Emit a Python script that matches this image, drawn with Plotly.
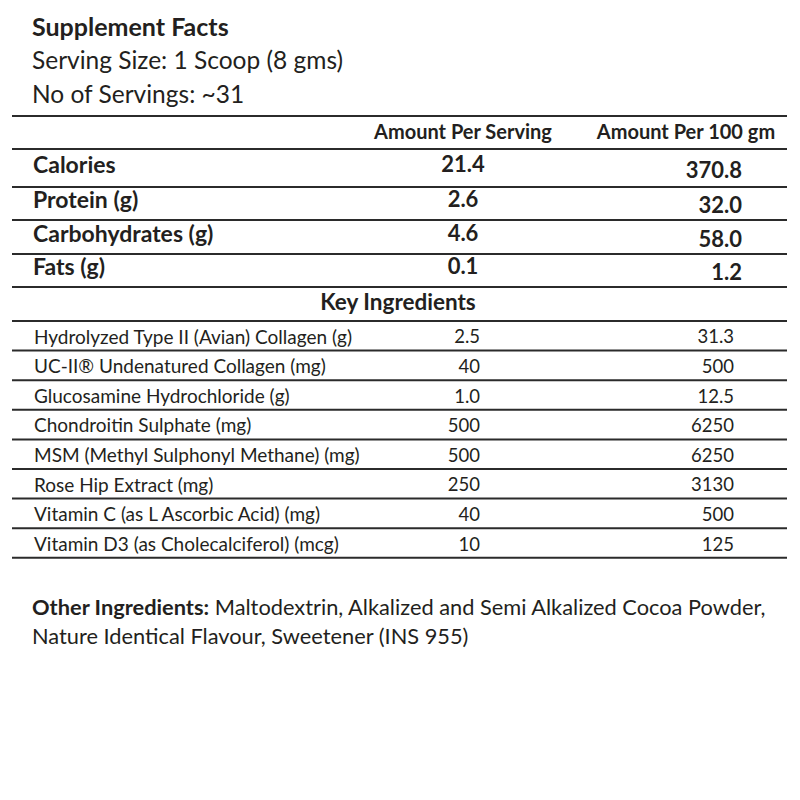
import plotly.graph_objects as go

# --- data ---
title = "Supplement Facts"
serving_size = "Serving Size: 1 Scoop (8 gms)"
servings = "No of Servings: ~31"
col_headers = ["Amount Per Serving", "Amount Per 100 gm"]

nutrients = ["Calories", "Protein (g)", "Carbohydrates (g)", "Fats (g)"]
nutr_per_serving = ["21.4", "2.6", "4.6", "0.1"]
nutr_per_100g = ["370.8", "32.0", "58.0", "1.2"]

section_title = "Key Ingredients"
ingredients = [
    "Hydrolyzed Type II (Avian) Collagen (g)",
    "UC-II® Undenatured Collagen (mg)",
    "Glucosamine Hydrochloride (g)",
    "Chondroitin Sulphate (mg)",
    "MSM (Methyl Sulphonyl Methane) (mg)",
    "Rose Hip Extract (mg)",
    "Vitamin C (as L Ascorbic Acid) (mg)",
    "Vitamin D3 (as Cholecalciferol) (mcg)",
]
ingr_per_serving = ["2.5", "40", "1.0", "500", "500", "250", "40", "10"]
ingr_per_100g = ["31.3", "500", "12.5", "6250", "6250", "3130", "500", "125"]

other_label = "Other Ingredients:"
other_lines = [
    "Maltodextrin, Alkalized and Semi Alkalized Cocoa Powder,",
    "Nature Identical Flavour, Sweetener (INS 955)",
]

# --- layout geometry ---
FONT = "Lato, 'Open Sans', sans-serif"
INK = "#231f20"
PAGE_OFF = 8  # body margin of the html page
X0, X1 = 12, 787
header_top = 116
nutr_bounds = [149, 187, 220, 254, 287]
ingr_top, ingr_h = 321, 29.6
ingr_bounds = [ingr_top + i * ingr_h for i in range(len(ingredients) + 1)]

fig = go.Figure()

# horizontal rules
hy = [header_top] + nutr_bounds + ingr_bounds
lx, ly = [], []
for y in hy:
    lx += [X0, X1, None]
    ly += [y, y, None]
fig.add_trace(go.Scatter(x=lx, y=ly, mode="lines",
                         line={"color": "#2b2b2b", "width": 2},
                         hoverinfo="skip"))

def text_trace(xs, ys, texts, pos, size, bold=False):
    t = [f"<b>{s}</b>" if bold else s for s in texts]
    fig.add_trace(go.Scatter(
        x=xs, y=ys, text=t, mode="text", textposition=pos,
        textfont={"family": FONT, "size": size, "color": INK},
        hoverinfo="skip",
    ))

# header row
text_trace([463, 686], [134, 134], col_headers, "middle center", 20, True)

# nutrient rows
nutr_mid = [(a + b) / 2 for a, b in zip(nutr_bounds[:-1], nutr_bounds[1:])]
text_trace([33] * 4, [m - 1 for m in nutr_mid], nutrients, "middle right", 23, True)
text_trace([463] * 4, [m - 2 for m in nutr_mid], nutr_per_serving, "middle center", 22, True)
text_trace([742] * 4, [m + 4 for m in nutr_mid], nutr_per_100g, "middle left", 22, True)

# key ingredients heading
text_trace([398], [304], [section_title], "middle center", 22.5, True)

# ingredient rows
ingr_mid = [(a + b) / 2 + 3 for a, b in zip(ingr_bounds[:-1], ingr_bounds[1:])]
n = len(ingredients)
text_trace([34] * n, ingr_mid, ingredients, "middle right", 19)
text_trace([480] * n, ingr_mid, ingr_per_serving, "middle left", 18.5)
text_trace([734] * n, ingr_mid, ingr_per_100g, "middle left", 18.5)

annotations = [
    dict(x=30, y=26, text=f"<b>{title}</b>", size=25),
    dict(x=30, y=59, text=serving_size, size=24.5),
    dict(x=30, y=93, text=servings, size=24.5),
    dict(x=30, y=606, text=f"<b>{other_label}</b> {other_lines[0]}", size=21.8),
    dict(x=30, y=635, text=other_lines[1], size=21.8),
]
fig.update_layout(annotations=[
    dict(x=a["x"], y=a["y"], text=a["text"], xref="x", yref="y",
         xanchor="left", yanchor="middle", showarrow=False,
         font={"family": FONT, "size": a["size"], "color": INK})
    for a in annotations
])

fig.update_layout(
    width=800, height=800, showlegend=False,
    margin={"l": 0, "r": 0, "t": 0, "b": 0},
    paper_bgcolor="white", plot_bgcolor="white",
    xaxis={"range": [PAGE_OFF, 800 + PAGE_OFF], "visible": False, "fixedrange": True},
    yaxis={"range": [800 + PAGE_OFF, PAGE_OFF], "visible": False, "fixedrange": True},
)

fig.write_html("out.html")
